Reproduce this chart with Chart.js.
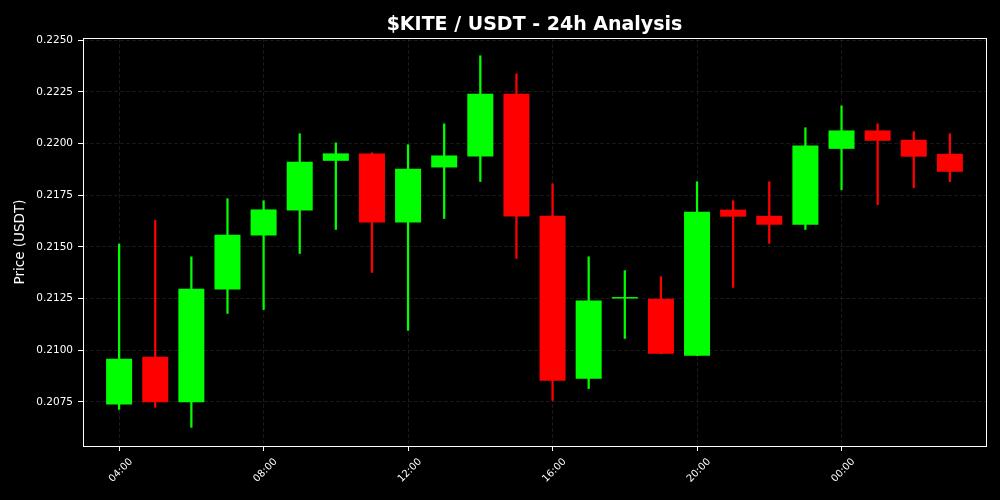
<!DOCTYPE html>
<html>
<head>
<meta charset="utf-8">
<title>$KITE / USDT - 24h Analysis</title>
<script src="https://cdn.jsdelivr.net/npm/chart.js@4"></script>
<style>
  body { margin: 0; background: #000; }
  canvas { display: block; }
</style>
</head>
<body>
<canvas id="myChart" width="1000" height="500"></canvas>
<script>
///////////// DATA /////////////

// hourly candles, 04:00 -> 03:00
const hours = ['04:00','05:00','06:00','07:00','08:00','09:00','10:00','11:00','12:00','13:00','14:00','15:00',
               '16:00','17:00','18:00','19:00','20:00','21:00','22:00','23:00','00:00','01:00','02:00','03:00'];
const opens  = [0.20738,0.20969,0.20748,0.21294,0.21555,0.21676,0.21916,0.21952,0.21618,0.21884,0.21937,0.22240,
                0.21650,0.20862,0.21250,0.21249,0.20974,0.21680,0.21650,0.21607,0.21974,0.22063,0.22018,0.21950];
const highs  = [0.21514,0.21628,0.21452,0.21733,0.21723,0.22047,0.22003,0.21955,0.21994,0.22095,0.22424,0.22337,
                0.21805,0.21452,0.21385,0.21356,0.21815,0.21723,0.21815,0.22076,0.22182,0.22095,0.22057,0.22047];
const lows   = [0.20714,0.20724,0.20627,0.21178,0.21197,0.21468,0.21584,0.21376,0.21096,0.21637,0.21816,0.21444,
                0.20757,0.20815,0.21057,0.20983,0.20974,0.21304,0.21517,0.21584,0.21776,0.21704,0.21786,0.21815];
const closes = [0.20959,0.20748,0.21298,0.21559,0.21681,0.21912,0.21952,0.21618,0.21878,0.21942,0.22240,0.21647,
                0.20853,0.21241,0.21251,0.20983,0.21670,0.21646,0.21607,0.21990,0.22063,0.22013,0.21936,0.21863];

// tick labels
const xTickPos    = [0, 4, 8, 12, 16, 20];
const xTickLabels = ['04:00', '08:00', '12:00', '16:00', '20:00', '00:00'];
const yTicks      = [0.2075, 0.2100, 0.2125, 0.2150, 0.2175, 0.2200, 0.2225, 0.2250];

const UP = '#00ff00';
const DOWN = '#ff0000';
const candleColors = opens.map((o, i) => closes[i] >= o ? UP : DOWN);

const font = 'DejaVu Sans';
const gridColor = 'rgba(80,80,80,0.3)';

// white frame round the plot + title centred over the plot
const framePlugin = {
  id: 'frame',
  afterDraw(chart) {
    const { ctx, chartArea: a } = chart;
    ctx.save();
    ctx.strokeStyle = '#ffffff';
    ctx.lineWidth = 1;
    ctx.strokeRect(Math.round(a.left) + 0.5, Math.round(a.top) + 0.5,
                   Math.round(a.right - a.left), Math.round(a.bottom - a.top));
    ctx.fillStyle = '#ffffff';
    ctx.font = 'bold 19px "DejaVu Sans"';
    ctx.textAlign = 'center';
    ctx.textBaseline = 'alphabetic';
    ctx.fillText('$KITE / USDT - 24h Analysis', (a.left + a.right) / 2, 30);
    ctx.restore();
  }
};

/////////////// CHART ///////////////////////

const ctx = document.getElementById('myChart').getContext('2d');
new Chart(ctx, {
  type: 'bar',
  data: {
    datasets: [
      { // bodies
        data: hours.map((h, i) => ({ x: i, y: [opens[i], closes[i]] })),
        backgroundColor: candleColors,
        borderWidth: 0,
        grouped: false,
        categoryPercentage: 1,
        barPercentage: 0.72,
        minBarLength: 1.5
      },
      { // wicks
        data: hours.map((h, i) => ({ x: i, y: [lows[i], highs[i]] })),
        backgroundColor: candleColors,
        borderWidth: 0,
        grouped: false,
        barThickness: 1.6
      }
    ]
  },
  options: {
    responsive: false,
    animation: false,
    layout: { padding: { left: 0, right: 14, top: 38, bottom: 0 } },
    plugins: {
      legend: { display: false },
      tooltip: { enabled: false },
      title: { display: false }
    },
    scales: {
      x: {
        type: 'linear',
        min: -1,
        max: 24,
        offset: false,
        grid: { offset: false, color: gridColor, tickColor: '#ffffff', tickLength: 5 },
        border: { color: '#ffffff', dash: [4, 2] },
        afterBuildTicks: axis => { axis.ticks = xTickPos.map(v => ({ value: v })); },
        afterFit: axis => { axis.height = 54; },
        ticks: {
          color: '#ffffff',
          font: { family: font, size: 10 },
          maxRotation: 45,
          minRotation: 45,
          padding: 5,
          labelOffset: 12,
          callback: v => xTickLabels[xTickPos.indexOf(v)]
        }
      },
      y: {
        min: 0.20537,
        max: 0.22510,
        grid: { color: gridColor, tickColor: '#ffffff', tickLength: 5 },
        border: { color: '#ffffff', dash: [4, 2] },
        afterBuildTicks: axis => { axis.ticks = yTicks.map(v => ({ value: v })); },
        afterFit: axis => { axis.width = 83; },
        title: {
          display: true,
          text: 'Price (USDT)',
          color: '#ffffff',
          font: { family: font, size: 13.5 },
          padding: { top: 12, bottom: 6 }
        },
        ticks: {
          color: '#ffffff',
          font: { family: font, size: 10.5 },
          padding: 5,
          callback: v => v.toFixed(4)
        }
      }
    }
  },
  plugins: [framePlugin]
});
</script>
</body>
</html>
